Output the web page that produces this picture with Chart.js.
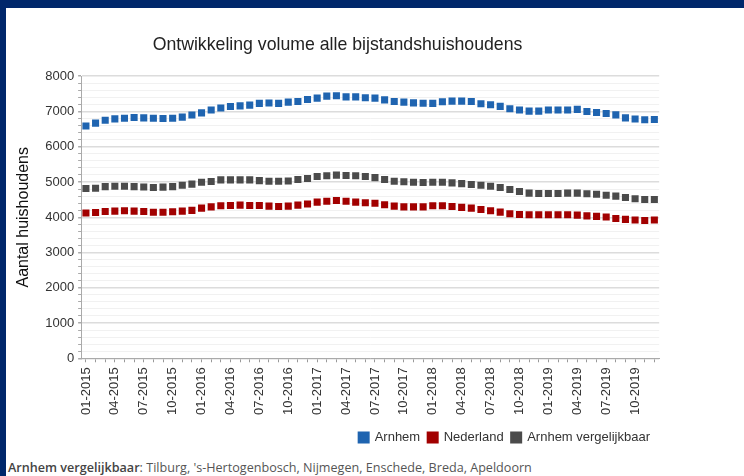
<!DOCTYPE html>
<html>
<head>
<meta charset="utf-8">
<script src="https://cdn.jsdelivr.net/npm/chart.js@4"></script>
<style>
  html, body { margin: 0; padding: 0; }
  body { width: 744px; height: 476px; background: #00276b; position: relative; overflow: hidden; }
  #panel { position: absolute; left: 6px; top: 8px; width: 738px; height: 468px; background: #fff; }
  #wrap { position: absolute; left: 0; top: 0; width: 669px; height: 446px; }
  #note { position: absolute; left: 2px; top: 451px; font: 12.6px "Open Sans", sans-serif; color: #555; white-space: nowrap; }
  #note b { font-weight: 600; color: #444; }
</style>
</head>
<body>
<div id="panel">
  <div id="wrap"><canvas id="chart"></canvas></div>
  <div id="note"><b>Arnhem vergelijkbaar</b>: Tilburg, 's-Hertogenbosch, Nijmegen, Enschede, Breda, Apeldoorn</div>
</div>
<script>
	// maanden 01-2015 t/m 12-2019
	const months = [
		'01-2015','02-2015','03-2015','04-2015','05-2015','06-2015','07-2015','08-2015','09-2015','10-2015','11-2015','12-2015',
		'01-2016','02-2016','03-2016','04-2016','05-2016','06-2016','07-2016','08-2016','09-2016','10-2016','11-2016','12-2016',
		'01-2017','02-2017','03-2017','04-2017','05-2017','06-2017','07-2017','08-2017','09-2017','10-2017','11-2017','12-2017',
		'01-2018','02-2018','03-2018','04-2018','05-2018','06-2018','07-2018','08-2018','09-2018','10-2018','11-2018','12-2018',
		'01-2019','02-2019','03-2019','04-2019','05-2019','06-2019','07-2019','08-2019','09-2019','10-2019','11-2019','12-2019'
	];

	const arnhem = [
		6590, 6670, 6750, 6790, 6810, 6830, 6820, 6810, 6800, 6810, 6840, 6900,
		6960, 7040, 7100, 7140, 7160, 7180, 7230, 7240, 7230, 7265, 7285, 7340,
		7380, 7435, 7445, 7415, 7415, 7390, 7380, 7330, 7285, 7265, 7245, 7235,
		7230, 7275, 7295, 7295, 7285, 7220, 7190, 7145, 7080, 7040, 7010, 7010,
		7040, 7040, 7040, 7060, 7000, 6970, 6945, 6905, 6820, 6785, 6765, 6775
	];

	const nederland = [
		4120, 4135, 4165, 4175, 4185, 4175, 4165, 4140, 4140, 4155, 4175, 4195,
		4260, 4295, 4325, 4335, 4345, 4335, 4335, 4315, 4305, 4315, 4345, 4375,
		4430, 4455, 4475, 4455, 4430, 4410, 4400, 4355, 4315, 4295, 4295, 4295,
		4325, 4325, 4305, 4280, 4260, 4220, 4185, 4145, 4100, 4080, 4070, 4070,
		4070, 4070, 4070, 4060, 4040, 4025, 4005, 3965, 3940, 3920, 3910, 3920
	];

	const vergelijkbaar = [
		4815, 4825, 4870, 4880, 4880, 4870, 4860, 4845, 4855, 4870, 4910, 4940,
		4995, 5015, 5060, 5060, 5060, 5060, 5040, 5020, 5020, 5030, 5070, 5100,
		5155, 5175, 5195, 5185, 5175, 5155, 5125, 5070, 5020, 5005, 4995, 4985,
		4995, 4995, 4975, 4955, 4930, 4910, 4880, 4845, 4785, 4730, 4685, 4675,
		4675, 4675, 4685, 4685, 4665, 4655, 4625, 4600, 4560, 4525, 4505, 4505
	];

	function dots (label, values, color) {
		return {
			label: label,
			data: values,
			showLine: false,
			pointStyle: 'rect',
			pointRadius: 5,
			pointHoverRadius: 5,
			pointBackgroundColor: color,
			pointBorderColor: color,
			pointBorderWidth: 0,
			backgroundColor: color,
			borderColor: color
		};
	}

	// titel en legenda iets naar links schuiven, los van de plot
	const boxShift = {
		id: 'boxShift',
		afterLayout: function (chart) {
			chart.legend.left -= 17;
			chart.legend.right -= 17;
			chart.titleBlock.left -= 7;
			chart.titleBlock.right -= 7;
		}
	};

	let ctx = document.getElementById('chart').getContext('2d');

	let chart = new Chart(ctx, {
		type: 'line',
		data: {
			labels: months,
			datasets: [
				dots('Arnhem', arnhem, '#1f64b0'),
				dots('Nederland', nederland, '#a20000'),
				dots('Arnhem vergelijkbaar', vergelijkbaar, '#4b4b4b')
			]
		},
		plugins: [boxShift],
		options: {
			animation: false,
			responsive: true,
			maintainAspectRatio: false,
			layout: { padding: { left: 8, right: 0, top: 0, bottom: 0 } },
			plugins: {
				tooltip: { enabled: false },
				title: {
					display: true,
					text: 'Ontwikkeling volume alle bijstandshuishoudens',
					color: '#222',
					font: { family: 'Liberation Sans', size: 17.7, weight: 'normal' },
					padding: { top: 26, bottom: 21 }
				},
				legend: {
					position: 'bottom',
					align: 'end',
					labels: {
						color: '#333',
						font: { family: 'Liberation Sans', size: 13 },
						boxWidth: 9,
						boxHeight: 9,
						padding: 8
					}
				}
			},
			scales: {
				x: {
					offset: true,
					border: { color: '#aaa' },
					grid: {
						drawOnChartArea: false,
						drawTicks: true,
						tickLength: 4,
						tickColor: '#999'
					},
					ticks: {
						autoSkip: false,
						maxRotation: 90,
						minRotation: 90,
						padding: 5,
						color: '#333',
						font: { family: 'Liberation Sans', size: 13 },
						callback: function (val, i) {
							return i % 3 === 0 ? months[i] : '';
						}
					},
					afterFit: function (scale) {
						scale.height += 3;
					}
				},
				y: {
					min: 0,
					max: 8000,
					border: { color: '#aaa' },
					grid: {
						color: (c) => c.tick.value % 1000 === 0 ? '#dcdcdc' : '#f1f1f1',
						lineWidth: (c) => c.tick.value % 1000 === 0 ? 1.5 : 1,
						tickLength: 3,
						tickColor: '#aaa'
					},
					ticks: {
						stepSize: 200,
						autoSkip: false,
						padding: 4,
						color: '#333',
						font: { family: 'Liberation Sans', size: 13 },
						callback: (v) => v % 1000 === 0 ? v : ''
					},
					title: {
						display: true,
						text: 'Aantal huishoudens',
						color: '#111',
						font: { family: 'Liberation Sans', size: 16 },
						padding: { top: 0, bottom: 8 }
					}
				}
			}
		}
	});
</script>
</body>
</html>
